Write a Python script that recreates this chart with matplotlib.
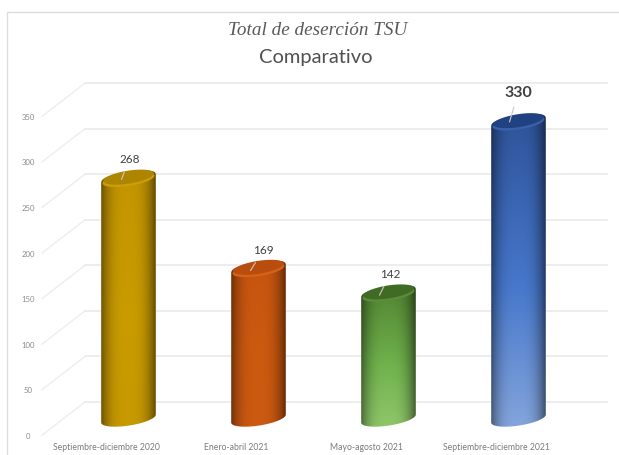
import numpy as np
import matplotlib.pyplot as plt
from matplotlib.patches import Polygon

# Chart data
periodos = ['Septiembre-diciembre 2020', 'Enero-abril 2021', 'Mayo-agosto 2021', 'Septiembre-diciembre 2021']
desercion = [268, 169, 142, 330]
ticks = [0, 50, 100, 150, 200, 250, 300, 350]

# Colours of each cylinder: body (top, middle, bottom) and lid
cuerpo = [
    [(0.76, 0.58, 0.00), (0.79, 0.61, 0.00), (0.78, 0.60, 0.00)],
    [(0.78, 0.33, 0.06), (0.80, 0.35, 0.06), (0.80, 0.35, 0.07)],
    [(0.29, 0.47, 0.17), (0.44, 0.70, 0.30), (0.60, 0.80, 0.45)],
    [(0.17, 0.31, 0.58), (0.28, 0.47, 0.80), (0.55, 0.67, 0.87)],
]
tapa = [(0.68, 0.52, 0.00), (0.72, 0.30, 0.05), (0.25, 0.42, 0.14), (0.13, 0.26, 0.50)]
borde_tapa = [(0.80, 0.62, 0.02), (0.84, 0.38, 0.10), (0.36, 0.55, 0.22), (0.22, 0.38, 0.66)]
# Label offsets in pixels: start of the leader on the lid, then label from there
lider_dx = [-7, -8, -9, -9]
lider_dy = [0, -1, -1, 1]
etiqueta_dx = [8, 13, 11, 9]
etiqueta_dy = [21, 21, 22, 30]

px_x = 130.0    # pixels per category
px_y = 0.911    # pixels per unit of value
medio_ancho = 27.3 / px_x
fondo = 36.5     # depth of the floor, in value units
radio_y = 7.0 / px_y
sesgo = 4.0 / px_y
caida_tapa = 4.0 / px_y   # lid sits a little below the value height

fig = plt.figure(figsize=(6.19, 4.56), dpi=100)
ax = fig.add_axes([0, 0, 1, 1])
ax.set_xlim(-128.5 / px_x, (619 - 128.5) / px_x)
ax.set_ylim(-53 / px_y, 403 / px_y)
ax.axis('off')


def x_de(px):
    return (px - 128.5) / px_x


def v_de(py):
    return (403 - py) / px_y


# Chart frame
ax.plot([x_de(7), x_de(7), x_de(619)], [v_de(456), v_de(12.5), v_de(12.5)], color='#dcdcdc', lw=1.0, zorder=1)

# Back wall grid and side wall slants
for v in ticks:
    ax.plot([x_de(42), x_de(85)], [v - fondo, v], color='#eeeeee', lw=1.0, zorder=1)
    ax.plot([x_de(85), x_de(607)], [v, v], color='#e8e8e8', lw=1.1, zorder=1)
    ax.text(x_de(28), v - fondo, str(v), ha='center', va='center', fontsize=5.6,
            color='#8a8a8a', family='Lato')


def borde(t, cx, cy, p=1.0, escala=1.0):
    co = np.cos(t)
    si = np.sin(t)
    co = np.sign(co) * np.abs(co) ** p
    si = np.sign(si) * np.abs(si) ** p
    xs = cx + escala * medio_ancho * co
    ys = cy + escala * radio_y * si + escala * sesgo * co
    return np.column_stack([xs, ys])


for i, v in enumerate(desercion):
    base = -fondo / 2
    arriba = v - fondo / 2 - 1 - caida_tapa

    # Body shading, clipped to the cylinder outline
    filas = 120
    columnas = 60
    u = np.linspace(-1, 1, columnas)
    sombra = 0.52 + 0.48 * np.clip(1 - np.abs(u + 0.02) ** 3.0, 0, 1)
    w = np.linspace(0, 1, filas)
    imagen = np.zeros((filas, columnas, 3))
    for c in range(3):
        vertical = np.interp(w, [0, 0.55, 1], [cuerpo[i][0][c], cuerpo[i][1][c], cuerpo[i][2][c]])
        imagen[:, :, c] = np.outer(vertical, sombra)
    im = ax.imshow(imagen, extent=[i - medio_ancho, i + medio_ancho, base - 30, arriba + 30],
                   aspect='auto', zorder=3, interpolation='bilinear')
    contorno = np.vstack([
        borde(np.linspace(np.pi, 2 * np.pi, 40), i, base),
        borde(np.linspace(0, np.pi, 60), i, arriba, p=0.68),
    ])
    parche = Polygon(contorno, closed=True, transform=ax.transData, fc='none', ec='none')
    ax.add_patch(parche)
    im.set_clip_path(parche)

    # Lid with a soft lighter rim along the front
    t = np.linspace(0, 2 * np.pi, 80)
    ax.add_patch(Polygon(borde(t, i, arriba, escala=0.95), closed=True, fc=borde_tapa[i], ec='none', zorder=4))
    ax.add_patch(Polygon(borde(t, i, arriba + 2.5, escala=0.93), closed=True, fc=tapa[i], ec='none', zorder=4))

    # Value label with its leader line
    ax.annotate(str(v), xy=(i + lider_dx[i] / px_x, arriba + lider_dy[i] / px_y),
                xytext=(etiqueta_dx[i] * 0.72, etiqueta_dy[i] * 0.72), textcoords='offset points',
                ha='center', va='center', family='Lato', color='#404040',
                fontsize=11.5 if i == 3 else 8.5, fontweight='bold' if i == 3 else 'normal',
                arrowprops=dict(arrowstyle='-', color='#c8c8c8', lw=0.8, shrinkA=4, shrinkB=0),
                zorder=6)

    ax.text(i - 22 / px_x, v_de(448), periodos[i], ha='center', va='center', fontsize=6.25,
            color='#7a7a7a', family='Lato')

# Title
ax.text(x_de(318), v_de(31), 'Total de deserción TSU', ha='center', va='center',
        fontsize=13.8, style='italic', family='Liberation Serif', color='#595959')
ax.text(x_de(316), v_de(58), 'Comparativo', ha='center', va='center',
        fontsize=14.5, family='Lato', color='#505050')

fig.savefig('out.png', dpi=100)
